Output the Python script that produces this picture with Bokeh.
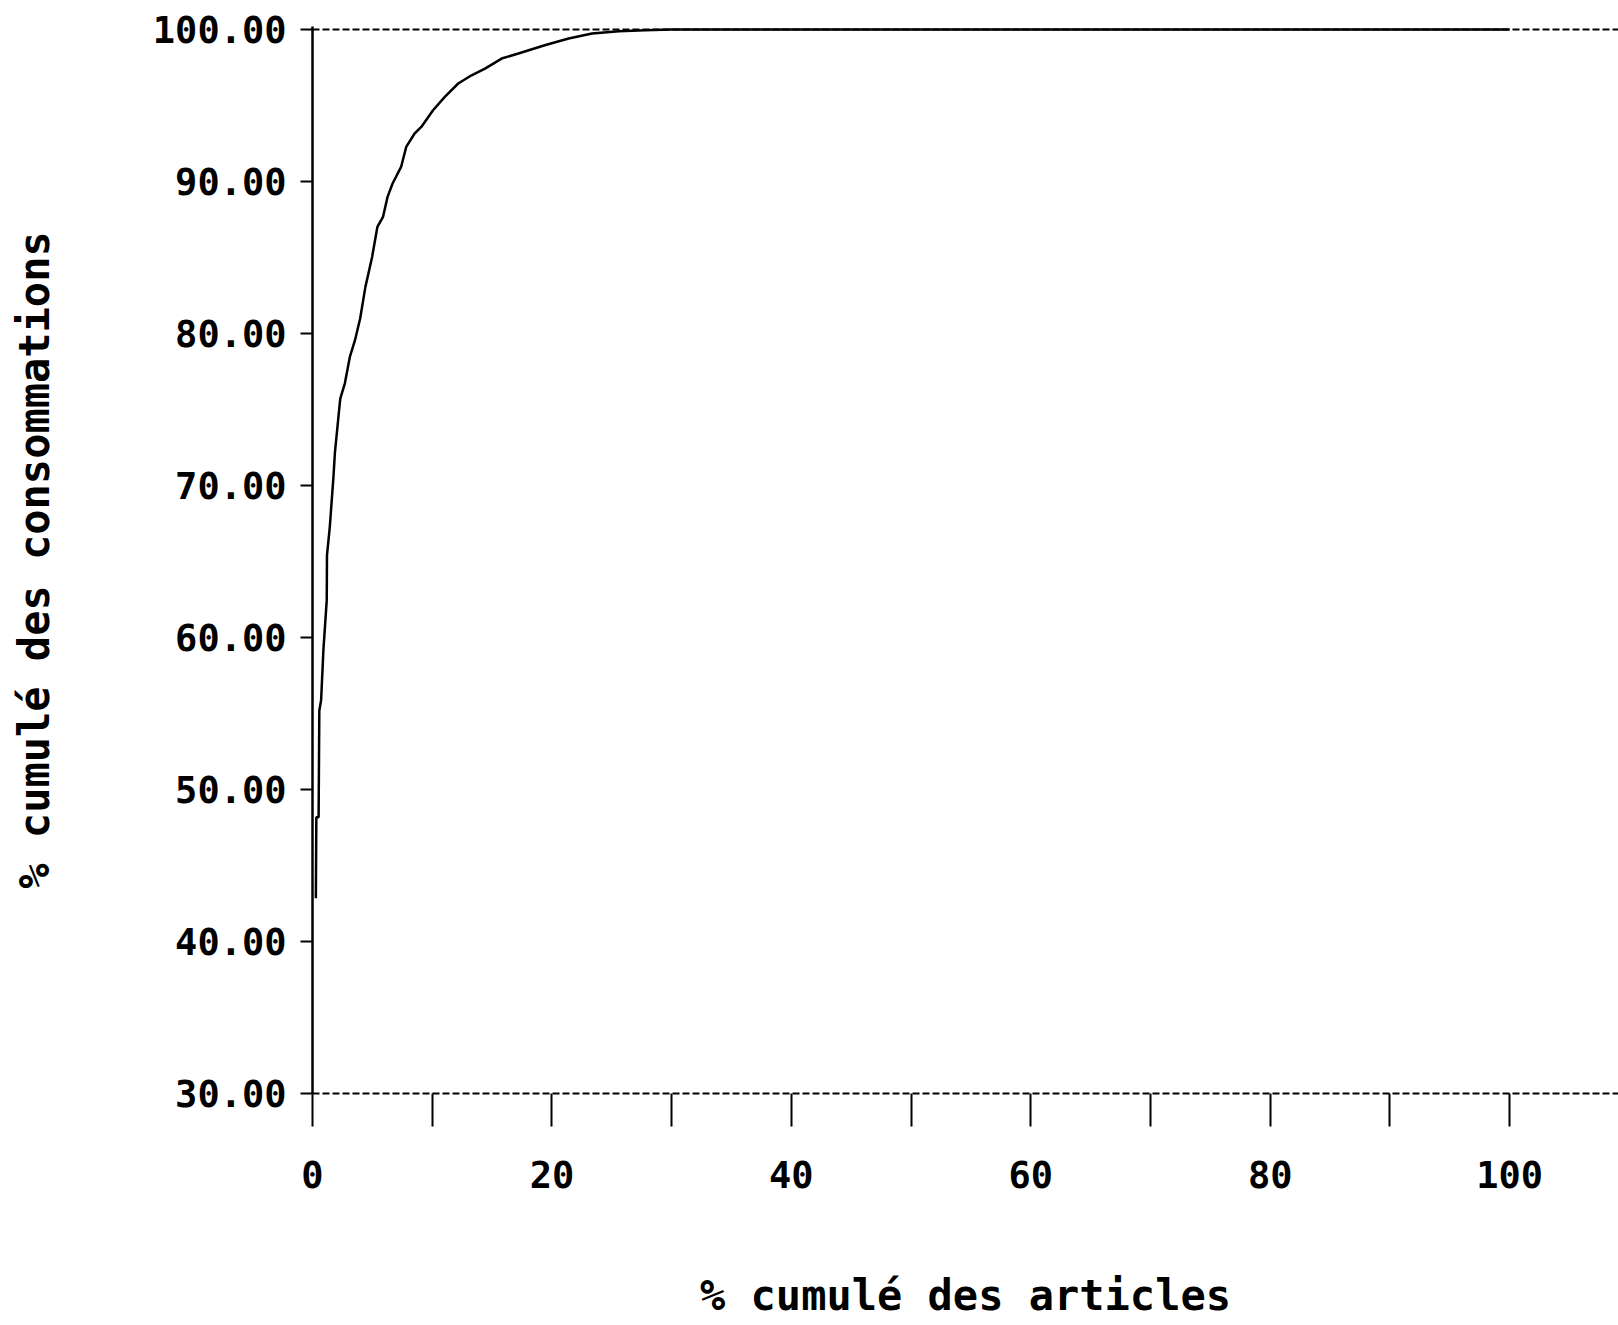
from bokeh.plotting import figure
from bokeh.models import FixedTicker, Range1d, Span, LinearAxis
from bokeh.embed import file_html
from bokeh.resources import INLINE

# % cumulé des articles (x) vs % cumulé des consommations (y)
articles_pct = [0.28, 0.32, 0.51, 0.57, 0.72, 0.91, 1.19, 1.21, 1.45, 1.75, 1.87,
                2.18, 2.32, 2.70, 3.12, 3.55, 3.98, 4.42, 4.98, 5.42, 5.89, 6.27,
                6.69, 7.40, 7.83, 8.53, 9.09, 10.07, 11.05, 12.17, 13.29, 14.41,
                15.80, 17.20, 19.40, 21.40, 23.35, 25.60, 27.80, 30.00, 100.00]
consommations_pct = [42.85, 48.18, 48.18, 55.20, 55.88, 59.17, 62.46, 65.42, 67.32,
                     70.57, 72.14, 74.62, 75.72, 76.71, 78.46, 79.56, 80.99, 83.07,
                     85.04, 87.01, 87.67, 88.99, 89.87, 90.96, 92.28, 93.16, 93.59,
                     94.69, 95.57, 96.45, 96.99, 97.43, 98.09, 98.42, 98.97, 99.41,
                     99.74, 99.89, 99.95, 100.00, 100.00]

x_ticks = [0, 10, 20, 30, 40, 50, 60, 70, 80, 90, 100]
x_tick_labels = ["0", "", "20", "", "40", "", "60", "", "80", "", "100"]
y_ticks = [30, 40, 50, 60, 70, 80, 90, 100]
y_tick_labels = ["30.00", "40.00", "50.00", "60.00", "70.00", "80.00", "90.00", "100.00"]
top_level = 100

x_title = "% cumulé des articles"
y_title = "% cumulé des consommations"

FONT = "DejaVu Sans Mono"

p = figure(width=1618, height=1325, output_backend="svg", toolbar_location=None,
           x_range=Range1d(0, 109.1), y_range=Range1d(30, 100.2),
           min_border_left=312, min_border_right=0, min_border_top=26,
           min_border_bottom=232)

p.background_fill_color = "white"
p.border_fill_color = "white"
p.outline_line_color = None
p.xgrid.visible = False
p.ygrid.visible = False

p.add_layout(Span(location=top_level, dimension="width", line_color="black",
                  line_width=2, line_dash="7 3"))

p.line(articles_pct, consommations_pct, line_color="black", line_width=2.5)

# x axis (ticks and tick labels)
xa = p.xaxis[0]
xa.ticker = FixedTicker(ticks=x_ticks)
xa.major_label_overrides = {t: l for t, l in zip(x_ticks, x_tick_labels)}
xa.minor_tick_line_color = None
xa.axis_line_color = "black"
xa.axis_line_width = 2
xa.axis_line_dash = "7 3"
xa.major_tick_in = 0
xa.major_tick_out = 33
xa.major_tick_line_width = 2
xa.major_label_standoff = 34
xa.major_label_text_font = FONT
xa.major_label_text_font_style = "bold"
xa.major_label_text_font_size = "37px"
xa.major_label_text_color = "black"

# x axis title, carried by a bare second axis below the first one
title_axis = LinearAxis(ticker=FixedTicker(ticks=[]),
                        axis_line_color=None, major_tick_line_color=None,
                        minor_tick_line_color=None, major_tick_in=0, major_tick_out=0,
                        minor_tick_in=0, minor_tick_out=0,
                        axis_label=x_title, axis_label_standoff=80,
                        axis_label_text_font=FONT, axis_label_text_font_style="bold",
                        axis_label_text_font_size="42px", axis_label_text_color="black")
p.add_layout(title_axis, "below")

# y axis
ya = p.yaxis[0]
ya.ticker = FixedTicker(ticks=y_ticks)
ya.major_label_overrides = {t: l for t, l in zip(y_ticks, y_tick_labels)}
ya.minor_tick_line_color = None
ya.axis_line_color = "black"
ya.axis_line_width = 2.5
ya.major_tick_in = 0
ya.major_tick_out = 12
ya.major_tick_line_width = 2
ya.major_label_standoff = 14
ya.major_label_text_font = FONT
ya.major_label_text_font_style = "bold"
ya.major_label_text_font_size = "37px"
ya.major_label_text_color = "black"
ya.axis_label = y_title
ya.axis_label_text_font = FONT
ya.axis_label_text_font_style = "bold"
ya.axis_label_text_font_size = "42px"
ya.axis_label_text_color = "black"
ya.axis_label_standoff = 91

open("out.html", "w").write(file_html(p, INLINE))
